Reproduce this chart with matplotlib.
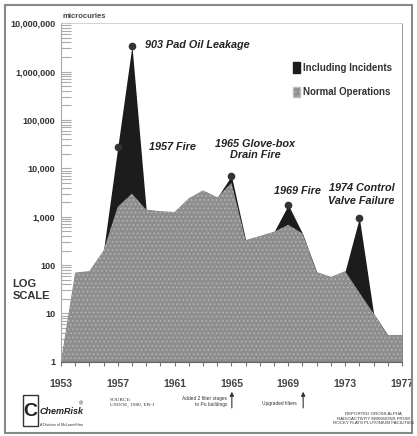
import numpy as np
import matplotlib
matplotlib.use("Agg")
import matplotlib.pyplot as plt
from matplotlib.patches import Patch, Rectangle
from matplotlib.ticker import FixedLocator, LogLocator, NullFormatter

# Rocky Flats gross alpha emissions, microcuries per year
years = list(range(1953, 1978))
normal_ops = [1, 70, 75, 200, 1600, 3000, 1400, 1300, 1250, 2400, 3500, 2500,
              5000, 330, 400, 490, 680, 450, 72, 57, 75, 27, 10, 3.6, 3.6]
with_incidents = [1, 70, 75, 200, 27000, 3400000, 1400, 1300, 1250, 2400, 3500, 2500,
                  7000, 330, 400, 490, 1750, 450, 72, 57, 75, 950, 10, 3.6, 3.6]

incident_years = [1957, 1958, 1965, 1969, 1974]
incident_labels = ["1957 Fire", "903 Pad Oil Leakage", "1965 Glove-box\nDrain Fire",
                   "1969 Fire", "1974 Control\nValve Failure"]

ytick_vals = [1, 10, 100, 1000, 10000, 100000, 1000000, 10000000]
ytick_labels = ["1", "10", "100", "1,000", "10,000", "100,000", "1,000,000", "10,000,000"]
xtick_vals = [1953, 1957, 1961, 1965, 1969, 1973, 1977]

plt.rcParams['font.family'] = ['Liberation Sans', 'DejaVu Sans']
plt.rcParams['hatch.linewidth'] = 0.5

fig = plt.figure(figsize=(4.17, 4.36), dpi=100)
ax = fig.add_axes([0.146, 0.170, 0.818, 0.777])

ax.fill_between(years, 1, with_incidents, color='#1c1c1c', lw=0, zorder=2)
ax.fill_between(years, 1, normal_ops, facecolor='#8e8e8e', edgecolor='#bcbcbc',
                hatch='....', lw=0, zorder=3)

peaks = [with_incidents[years.index(y)] for y in incident_years]
ax.plot(incident_years, peaks, 'o', color='#333333', ms=4.5, zorder=4)

ax.set_yscale('log')
ax.set_xlim(1953, 1977)
ax.set_ylim(1, 10000000)

ax.yaxis.set_major_locator(FixedLocator(ytick_vals))
ax.set_yticklabels(ytick_labels)
ax.yaxis.set_minor_locator(LogLocator(base=10, subs=np.arange(2, 10), numticks=20))
ax.yaxis.set_minor_formatter(NullFormatter())
ax.tick_params(axis='y', which='both', direction='in', length=7, width=0.8,
               color='#aaaaaa', labelsize=6.5, pad=4)
for lab in ax.get_yticklabels():
    lab.set_fontweight('bold')
    lab.set_color('#333333')

ax.set_xticks(xtick_vals)
ax.set_xticks(years, minor=True)
ax.tick_params(axis='x', which='both', direction='out', length=3, width=0.8,
               color='#777777', labelsize=7.5, pad=9)
for lab in ax.get_xticklabels():
    lab.set_fontweight('bold')
    lab.set_color('#444444')

ax.spines['left'].set_color('#aaaaaa')
ax.spines['bottom'].set_color('#666666')
ax.spines['right'].set_color('#888888')
ax.spines['right'].set_linewidth(0.6)
ax.spines['top'].set_color('#cccccc')
ax.spines['top'].set_linewidth(0.6)

# incident annotations
ann_style = dict(fontsize=7.8, fontweight='bold', fontstyle='italic', color='#222222',
                 family=['Liberation Sans Narrow', 'Liberation Sans'])
ax.text(1958.95, 3500000, incident_labels[1], ha='left', va='center', **ann_style)
ax.text(1959.2, 27000, incident_labels[0], ha='left', va='center', **ann_style)
ax.text(1966.65, 24000, incident_labels[2], ha='center', va='center', linespacing=1.15, **ann_style)
ax.text(1968.0, 3400, incident_labels[3], ha='left', va='center', **ann_style)
ax.text(1974.15, 2900, incident_labels[4], ha='center', va='center', linespacing=1.4, **ann_style)

handles = [Patch(facecolor='#1c1c1c', edgecolor='#1c1c1c'),
           Patch(facecolor='#8e8e8e', edgecolor='#bcbcbc', hatch='....')]
leg = ax.legend(handles, ["Including Incidents", "Normal Operations"],
                loc='upper right', bbox_to_anchor=(0.995, 0.91), frameon=False,
                handlelength=0.7, handleheight=1.3, handletextpad=0.3,
                labelspacing=1.4, prop={'size': 7, 'weight': 'bold'})
for t in leg.get_texts():
    t.set_color('#333333')

# text around the axes
fig.text(0.151, 0.958, "microcuries", fontsize=5.5, fontweight='bold', color='#444444')
fig.text(0.03, 0.335, "LOG\nSCALE", fontsize=8, fontweight='bold', color='#333333',
         linespacing=1.2, va='center')

# ChemRisk logo
fig.patches.append(Rectangle((0.056, 0.022), 0.034, 0.072, transform=fig.transFigure,
                             fill=False, edgecolor='#333333', lw=1.0))
fig.text(0.073, 0.057, "C", fontsize=14, fontweight='bold', ha='center', va='center',
         color='#222222')
fig.text(0.094, 0.050, "ChemRisk", fontsize=6.5, fontweight='bold', fontstyle='italic',
         color='#222222', family=['Liberation Sans Narrow', 'Liberation Sans'])
fig.text(0.188, 0.070, "\u00ae", fontsize=4, color='#222222')
fig.text(0.096, 0.022, "A Division of McLaren/Hart", fontsize=2.6, color='#333333')

fig.text(0.263, 0.068, "SOURCE:\nUSDOE, 1980, ER-1", fontsize=3.8, family='Liberation Serif',
         color='#333333', linespacing=1.4)
fig.text(0.545, 0.068, "Added 2 filter stages\nto Pu buildings", fontsize=3.5,
         color='#333333', ha='right', linespacing=1.4)
fig.text(0.712, 0.072, "Upgraded filters", fontsize=3.5, color='#333333', ha='right')

for xf in [0.556, 0.727]:
    fig.add_artist(plt.Annotation("", xy=(xf, 0.108), xytext=(xf, 0.058),
                                  xycoords='figure fraction', textcoords='figure fraction',
                                  arrowprops=dict(arrowstyle='-|>', color='#333333',
                                                  lw=0.8, mutation_scale=6)))

fig.text(0.895, 0.040, "REPORTED GROSS ALPHA\nRADIOACTIVITY EMISSIONS FROM\n"
         "ROCKY FLATS PLUTONIUM FACILITIES", fontsize=3.2, color='#333333',
         ha='center', va='center', linespacing=1.3)

# outer frame
fig.patches.append(Rectangle((0.012, 0.008), 0.976, 0.981, transform=fig.transFigure,
                             fill=False, edgecolor='#888888', lw=1.5))

fig.savefig("out.png", dpi=100)
